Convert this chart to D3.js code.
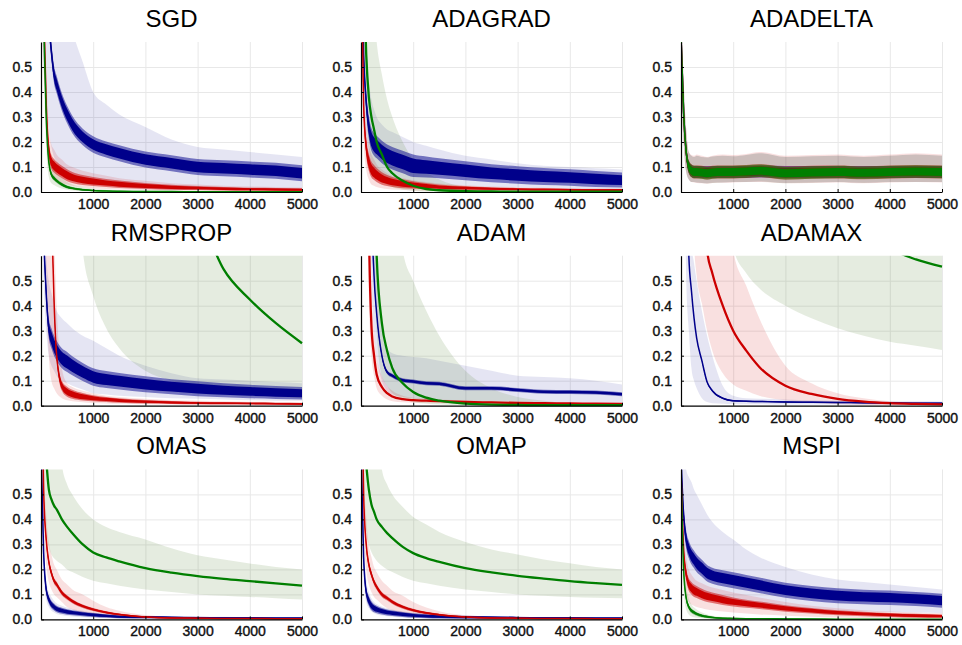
<!DOCTYPE html>
<html>
<head>
<meta charset="utf-8">
<script src="https://cdn.jsdelivr.net/npm/d3@7"></script>
<style>
  body { margin: 0; background: #fff; }
  text { font-family: "Liberation Sans", Arial, Helvetica, sans-serif; }
</style>
</head>
<body>
<svg id="chart" width="962" height="645"></svg>
<script>
const iters = [0, 50, 100, 150, 200, 250, 300, 400, 500, 600, 800, 1000, 1250, 1500, 2000, 2500, 3000, 3500, 4000, 4500, 5000];
const titles = ["SGD", "ADAGRAD", "ADADELTA", "RMSPROP", "ADAM", "ADAMAX", "OMAS", "OMAP", "MSPI"];
const xTicks = [1000, 2000, 3000, 4000, 5000];
const yTicks = [0.0, 0.1, 0.2, 0.3, 0.4, 0.5];

// SGD
const sgdBlueMean  = [1.2, 1.0, 0.85, 0.68, 0.56, 0.47, 0.43, 0.36, 0.31, 0.27, 0.22, 0.19, 0.17, 0.155, 0.13, 0.115, 0.1, 0.095, 0.09, 0.085, 0.075];
const sgdBlueNoise = [0, 0.02, 0.03, 0.035, 0.035, 0.035, 0.035, 0.035, 0.035, 0.035, 0.033, 0.033, 0.032, 0.032, 0.032, 0.032, 0.032, 0.032, 0.032, 0.032, 0.032];
const sgdBlueLo    = [0.8, 0.5, 0.35, 0.25, 0.18, 0.14, 0.12, 0.09, 0.07, 0.06, 0.04, 0.03, 0.025, 0.02, 0.015, 0.01, 0.01, 0.01, 0.01, 0.01, 0.01];
const sgdBlueHi    = [1.5, 1.4, 1.3, 1.2, 1.1, 1.0, 0.95, 0.85, 0.75, 0.65, 0.52, 0.4, 0.35, 0.31, 0.26, 0.21, 0.18, 0.17, 0.16, 0.15, 0.14];
const sgdRedMean   = [1.0, 0.75, 0.35, 0.17, 0.12, 0.105, 0.095, 0.08, 0.067, 0.058, 0.048, 0.042, 0.036, 0.031, 0.024, 0.019, 0.016, 0.013, 0.011, 0.01, 0.009];
const sgdRedNoise  = [0, 0.02, 0.03, 0.03, 0.028, 0.027, 0.026, 0.025, 0.024, 0.022, 0.02, 0.018, 0.016, 0.015, 0.012, 0.01, 0.008, 0.007, 0.006, 0.006, 0.006];
const sgdRedLo     = [0.8, 0.55, 0.22, 0.09, 0.06, 0.05, 0.045, 0.035, 0.03, 0.025, 0.02, 0.015, 0.012, 0.01, 0.008, 0.006, 0.005, 0.004, 0.003, 0.003, 0.003];
const sgdRedHi     = [1.2, 0.95, 0.5, 0.26, 0.19, 0.17, 0.15, 0.13, 0.11, 0.1, 0.085, 0.075, 0.065, 0.055, 0.045, 0.035, 0.03, 0.025, 0.022, 0.02, 0.018];
const sgdGreenMean = [1.0, 0.7, 0.3, 0.12, 0.07, 0.055, 0.045, 0.03, 0.02, 0.015, 0.009, 0.006, 0.004, 0.003, 0.002, 0.002, 0.001, 0.001, 0.001, 0.001, 0.001];
const sgdGreenNoise= [0, 0.01, 0.012, 0.012, 0.01, 0.009, 0.008, 0.007, 0.006, 0.005, 0.004, 0.003, 0.002, 0.002, 0.002, 0.001, 0.001, 0.001, 0.001, 0.001, 0.001];
const sgdGreenLo   = [0.8, 0.5, 0.18, 0.06, 0.035, 0.028, 0.022, 0.014, 0.009, 0.006, 0.003, 0.002, 0.001, 0, 0, 0, 0, 0, 0, 0, 0];
const sgdGreenHi   = [1.2, 0.9, 0.45, 0.2, 0.12, 0.09, 0.075, 0.055, 0.04, 0.03, 0.02, 0.014, 0.01, 0.008, 0.006, 0.005, 0.004, 0.004, 0.004, 0.004, 0.004];

// ADAGRAD
const adagradBlueMean  = [1.0, 0.55, 0.36, 0.26, 0.21, 0.19, 0.18, 0.16, 0.145, 0.135, 0.12, 0.105, 0.1, 0.095, 0.085, 0.075, 0.068, 0.062, 0.058, 0.052, 0.048];
const adagradBlueNoise = [0, 0.03, 0.04, 0.045, 0.045, 0.045, 0.045, 0.045, 0.045, 0.045, 0.045, 0.045, 0.042, 0.04, 0.038, 0.036, 0.035, 0.034, 0.033, 0.032, 0.03];
const adagradBlueLo    = [0.8, 0.35, 0.2, 0.13, 0.1, 0.09, 0.08, 0.07, 0.06, 0.055, 0.045, 0.04, 0.035, 0.03, 0.025, 0.02, 0.018, 0.015, 0.012, 0.01, 0.01];
const adagradBlueHi    = [1.2, 0.8, 0.6, 0.45, 0.37, 0.33, 0.3, 0.27, 0.25, 0.24, 0.22, 0.2, 0.185, 0.17, 0.145, 0.13, 0.115, 0.105, 0.1, 0.095, 0.09];
const adagradRedMean   = [1.0, 0.35, 0.18, 0.12, 0.09, 0.078, 0.068, 0.054, 0.046, 0.04, 0.033, 0.028, 0.024, 0.02, 0.016, 0.013, 0.011, 0.01, 0.009, 0.008, 0.008];
const adagradRedNoise  = [0, 0.03, 0.035, 0.035, 0.032, 0.03, 0.028, 0.025, 0.022, 0.02, 0.018, 0.015, 0.012, 0.01, 0.008, 0.006, 0.005, 0.005, 0.004, 0.004, 0.004];
const adagradRedLo     = [0.8, 0.2, 0.09, 0.05, 0.03, 0.025, 0.02, 0.015, 0.012, 0.01, 0.008, 0.006, 0.005, 0.004, 0.003, 0.003, 0.003, 0.003, 0.003, 0.003, 0.003];
const adagradRedHi     = [1.2, 0.5, 0.27, 0.19, 0.15, 0.13, 0.11, 0.09, 0.075, 0.065, 0.055, 0.047, 0.04, 0.034, 0.027, 0.022, 0.019, 0.017, 0.015, 0.014, 0.013];
const adagradGreenMean = [1.2, 0.9, 0.55, 0.38, 0.3, 0.25, 0.2, 0.15, 0.1, 0.075, 0.045, 0.025, 0.012, 0.007, 0.003, 0.002, 0.001, 0.001, 0.001, 0.001, 0.001];
const adagradGreenLo   = [0.9, 0.5, 0.3, 0.18, 0.12, 0.09, 0.07, 0.045, 0.03, 0.02, 0.01, 0.005, 0.002, 0.001, 0, 0, 0, 0, 0, 0, 0];
const adagradGreenHi   = [1.5, 1.4, 1.2, 1.0, 0.85, 0.72, 0.6, 0.47, 0.37, 0.3, 0.2, 0.13, 0.08, 0.05, 0.02, 0.01, 0.006, 0.005, 0.005, 0.005, 0.005];

// ADADELTA
const adadeltaBlueMean  = [0.62, 0.32, 0.16, 0.1, 0.085, 0.08, 0.08, 0.08, 0.08, 0.08, 0.08, 0.08, 0.08, 0.082, 0.08, 0.08, 0.08, 0.08, 0.08, 0.08, 0.08];
const adadeltaBlueNoise = [0, 0.02, 0.023, 0.024, 0.024, 0.024, 0.024, 0.024, 0.024, 0.024, 0.024, 0.024, 0.024, 0.024, 0.024, 0.024, 0.024, 0.024, 0.024, 0.024, 0.024];
const adadeltaBlueLo    = [0.45, 0.2, 0.08, 0.05, 0.04, 0.04, 0.038, 0.036, 0.035, 0.037, 0.038, 0.04, 0.04, 0.042, 0.036, 0.038, 0.04, 0.037, 0.04, 0.04, 0.04];
const adadeltaBlueHi    = [0.8, 0.45, 0.25, 0.16, 0.145, 0.14, 0.145, 0.14, 0.138, 0.142, 0.145, 0.143, 0.148, 0.155, 0.14, 0.143, 0.145, 0.14, 0.145, 0.15, 0.145];
const adadeltaRedMean   = [0.62, 0.32, 0.16, 0.1, 0.085, 0.08, 0.08, 0.079, 0.076, 0.079, 0.08, 0.08, 0.082, 0.085, 0.076, 0.079, 0.08, 0.077, 0.08, 0.082, 0.08];
const adadeltaRedNoise  = [0, 0.02, 0.024, 0.026, 0.026, 0.026, 0.026, 0.026, 0.026, 0.026, 0.026, 0.026, 0.026, 0.026, 0.026, 0.026, 0.026, 0.026, 0.026, 0.026, 0.026];
const adadeltaRedLo     = [0.45, 0.2, 0.08, 0.05, 0.04, 0.038, 0.036, 0.035, 0.033, 0.036, 0.037, 0.038, 0.04, 0.04, 0.035, 0.036, 0.038, 0.035, 0.038, 0.04, 0.038];
const adadeltaRedHi     = [0.8, 0.45, 0.25, 0.16, 0.148, 0.145, 0.15, 0.145, 0.14, 0.145, 0.15, 0.148, 0.152, 0.16, 0.145, 0.148, 0.15, 0.145, 0.15, 0.155, 0.15];
const adadeltaGreenMean = [0.62, 0.32, 0.16, 0.1, 0.085, 0.08, 0.08, 0.078, 0.075, 0.078, 0.08, 0.08, 0.082, 0.085, 0.075, 0.078, 0.08, 0.077, 0.08, 0.082, 0.08];
const adadeltaGreenNoise= [0, 0.02, 0.024, 0.025, 0.025, 0.025, 0.025, 0.025, 0.025, 0.025, 0.025, 0.025, 0.025, 0.025, 0.025, 0.025, 0.025, 0.025, 0.025, 0.025, 0.025];
const adadeltaGreenLo   = [0.45, 0.2, 0.08, 0.05, 0.04, 0.04, 0.038, 0.036, 0.034, 0.036, 0.038, 0.04, 0.04, 0.042, 0.035, 0.037, 0.04, 0.036, 0.04, 0.04, 0.04];
const adadeltaGreenHi   = [0.8, 0.45, 0.25, 0.16, 0.145, 0.14, 0.145, 0.14, 0.138, 0.142, 0.145, 0.143, 0.148, 0.155, 0.14, 0.143, 0.145, 0.14, 0.145, 0.15, 0.145];

// RMSPROP
const rmspropBlueMean  = [1.2, 0.7, 0.45, 0.31, 0.27, 0.24, 0.22, 0.19, 0.175, 0.16, 0.135, 0.115, 0.105, 0.098, 0.086, 0.076, 0.068, 0.062, 0.057, 0.053, 0.05];
const rmspropBlueNoise = [0, 0.03, 0.04, 0.04, 0.04, 0.04, 0.04, 0.04, 0.04, 0.038, 0.036, 0.035, 0.034, 0.033, 0.032, 0.03, 0.03, 0.028, 0.027, 0.026, 0.025];
const rmspropBlueLo    = [0.9, 0.5, 0.3, 0.2, 0.16, 0.14, 0.12, 0.1, 0.09, 0.08, 0.065, 0.05, 0.045, 0.04, 0.035, 0.03, 0.028, 0.025, 0.022, 0.02, 0.02];
const rmspropBlueHi    = [1.3, 0.9, 0.6, 0.5, 0.45, 0.41, 0.38, 0.35, 0.33, 0.31, 0.28, 0.26, 0.23, 0.2, 0.16, 0.13, 0.11, 0.105, 0.1, 0.095, 0.09];
const rmspropRedMean   = [3, 2.5, 2, 1.2, 0.8, 0.42, 0.2, 0.08, 0.056, 0.046, 0.036, 0.03, 0.025, 0.021, 0.016, 0.013, 0.011, 0.01, 0.009, 0.008, 0.007];
const rmspropRedNoise  = [0, 0, 0, 0.01, 0.015, 0.02, 0.02, 0.02, 0.02, 0.018, 0.015, 0.012, 0.01, 0.009, 0.007, 0.006, 0.005, 0.005, 0.004, 0.004, 0.004];
const rmspropRedLo     = [2, 1.5, 0.5, 0.2, 0.1, 0.07, 0.05, 0.03, 0.022, 0.018, 0.014, 0.011, 0.009, 0.008, 0.006, 0.005, 0.004, 0.003, 0.003, 0.003, 0.002];
const rmspropRedHi     = [3.5, 3, 2.5, 1.5, 1.0, 0.7, 0.4, 0.15, 0.09, 0.075, 0.06, 0.05, 0.04, 0.035, 0.028, 0.022, 0.02, 0.018, 0.016, 0.015, 0.014];
const rmspropGreenMean = [5, 4.8, 4.6, 4.4, 4.2, 4.0, 3.8, 3.5, 3.2, 3.0, 2.6, 2.2, 1.8, 1.5, 1.15, 0.95, 0.78, 0.545, 0.425, 0.33, 0.25];
const rmspropGreenLo   = [3, 3, 3, 3, 3, 3, 3, 2.6, 2.1, 1.6, 0.62, 0.44, 0.31, 0.23, 0.14, 0.1, 0.07, 0.055, 0.045, 0.038, 0.03];
const rmspropGreenHi   = [6, 6, 6, 6, 6, 6, 6, 6, 6, 6, 6, 6, 6, 6, 6, 6, 6, 6, 6, 6, 6];

// ADAM
const adamBlueMean  = [5, 4, 3, 2, 0.85, 0.52, 0.37, 0.2, 0.135, 0.12, 0.102, 0.097, 0.09, 0.088, 0.07, 0.07, 0.063, 0.056, 0.055, 0.053, 0.046];
const adamBlueNoise = [0, 0, 0, 0, 0, 0, 0.006, 0.008, 0.008, 0.008, 0.008, 0.008, 0.008, 0.008, 0.008, 0.008, 0.008, 0.008, 0.008, 0.008, 0.008];
const adamBlueLo    = [4, 3, 2, 1.2, 0.5, 0.3, 0.2, 0.1, 0.06, 0.045, 0.035, 0.03, 0.025, 0.022, 0.02, 0.018, 0.016, 0.015, 0.014, 0.013, 0.012];
const adamBlueHi    = [6, 5, 4, 3, 1.3, 0.8, 0.55, 0.32, 0.23, 0.21, 0.2, 0.195, 0.19, 0.18, 0.16, 0.14, 0.12, 0.115, 0.11, 0.1, 0.085];
const adamRedMean   = [5, 4, 3, 0.75, 0.32, 0.2, 0.125, 0.075, 0.05, 0.037, 0.026, 0.022, 0.02, 0.018, 0.015, 0.013, 0.011, 0.01, 0.009, 0.008, 0.007];
const adamRedLo     = [4, 3, 2, 0.45, 0.2, 0.12, 0.07, 0.04, 0.025, 0.018, 0.014, 0.012, 0.011, 0.01, 0.009, 0.008, 0.006, 0.005, 0.005, 0.004, 0.004];
const adamRedHi     = [6, 5, 4, 1.2, 0.45, 0.3, 0.2, 0.12, 0.08, 0.06, 0.04, 0.032, 0.028, 0.025, 0.021, 0.018, 0.016, 0.014, 0.013, 0.012, 0.011];
const adamGreenMean = [5, 4.5, 4, 3.5, 2.5, 1.0, 0.6, 0.33, 0.22, 0.15, 0.09, 0.055, 0.032, 0.02, 0.008, 0.004, 0.003, 0.002, 0.002, 0.002, 0.002];
const adamGreenLo   = [4, 3.5, 3, 2.5, 1.5, 0.6, 0.3, 0.12, 0.08, 0.05, 0.03, 0.015, 0.008, 0.005, 0.002, 0.001, 0, 0, 0, 0, 0];
const adamGreenHi   = [6, 6, 6, 6, 6, 5, 4, 3, 2, 1.2, 0.62, 0.5, 0.38, 0.28, 0.14, 0.07, 0.035, 0.02, 0.01, 0.008, 0.006];

// ADAMAX
const adamaxBlueMean  = [5, 3, 1.5, 0.6, 0.46, 0.35, 0.27, 0.18, 0.095, 0.06, 0.03, 0.02, 0.018, 0.017, 0.015, 0.014, 0.013, 0.012, 0.011, 0.01, 0.01];
const adamaxBlueNoise = [0, 0, 0, 0, 0, 0, 0, 0.003, 0.003, 0.003, 0.003, 0.003, 0.003, 0.003, 0.003, 0.003, 0.003, 0.003, 0.003, 0.003, 0.003];
const adamaxBlueLo    = [4, 2, 0.5, 0.3, 0.15, 0.1, 0.07, 0.03, 0.015, 0.01, 0.008, 0.007, 0.006, 0.006, 0.005, 0.005, 0.005, 0.004, 0.004, 0.004, 0.004];
const adamaxBlueHi    = [6, 4, 1.5, 0.9, 0.65, 0.57, 0.5, 0.38, 0.28, 0.2, 0.08, 0.04, 0.03, 0.028, 0.025, 0.022, 0.02, 0.02, 0.018, 0.018, 0.017];
const adamaxRedMean   = [8, 7, 6, 5, 4, 3, 2, 1.2, 0.62, 0.53, 0.4, 0.3, 0.22, 0.155, 0.08, 0.047, 0.027, 0.016, 0.01, 0.007, 0.005];
const adamaxRedLo     = [6, 5, 4, 3, 2, 0.65, 0.52, 0.41, 0.3, 0.22, 0.13, 0.085, 0.06, 0.04, 0.022, 0.012, 0.006, 0.004, 0.003, 0.002, 0.002];
const adamaxRedHi     = [9, 8, 7, 6, 5, 4, 3, 2.2, 1.6, 1.3, 1.0, 0.62, 0.48, 0.35, 0.16, 0.09, 0.05, 0.03, 0.018, 0.012, 0.01];
const adamaxGreenMean = [3, 2.8, 2.6, 2.5, 2.4, 2.3, 2.2, 2.0, 1.9, 1.8, 1.6, 1.5, 1.35, 1.25, 1.1, 0.95, 0.82, 0.71, 0.63, 0.585, 0.556];
const adamaxGreenLo   = [3, 3, 3, 3, 3, 3, 3, 2.6, 2.2, 1.6, 1.0, 0.63, 0.53, 0.47, 0.4, 0.35, 0.31, 0.28, 0.256, 0.24, 0.223];
const adamaxGreenHi   = [4, 4, 4, 4, 4, 4, 4, 4, 4, 4, 4, 4, 4, 4, 4, 4, 4, 4, 4, 4, 4];

// OMAS
const omasBlueMean  = [0.7, 0.27, 0.12, 0.08, 0.06, 0.05, 0.042, 0.035, 0.03, 0.027, 0.022, 0.018, 0.014, 0.011, 0.009, 0.008, 0.007, 0.006, 0.006, 0.005, 0.005];
const omasBlueNoise = [0, 0.02, 0.018, 0.016, 0.015, 0.014, 0.013, 0.012, 0.011, 0.01, 0.009, 0.008, 0.007, 0.006, 0.005, 0.004, 0.004, 0.004, 0.004, 0.004, 0.004];
const omasBlueLo    = [0.5, 0.18, 0.08, 0.05, 0.035, 0.028, 0.022, 0.017, 0.014, 0.012, 0.009, 0.007, 0.005, 0.004, 0.003, 0.003, 0.002, 0.002, 0.002, 0.002, 0.002];
const omasBlueHi    = [0.9, 0.35, 0.16, 0.11, 0.09, 0.075, 0.065, 0.055, 0.048, 0.042, 0.035, 0.028, 0.022, 0.018, 0.015, 0.013, 0.012, 0.011, 0.01, 0.01, 0.01];
const omasRedMean   = [1.2, 0.52, 0.32, 0.23, 0.185, 0.155, 0.14, 0.107, 0.088, 0.073, 0.053, 0.04, 0.028, 0.02, 0.01, 0.006, 0.005, 0.004, 0.004, 0.003, 0.003];
const omasRedNoise  = [0, 0.015, 0.015, 0.014, 0.013, 0.012, 0.011, 0.01, 0.009, 0.008, 0.007, 0.006, 0.005, 0.004, 0.003, 0.003, 0.002, 0.002, 0.002, 0.002, 0.002];
const omasRedLo     = [0.9, 0.38, 0.22, 0.15, 0.12, 0.1, 0.09, 0.07, 0.05, 0.04, 0.025, 0.015, 0.01, 0.007, 0.004, 0.003, 0.002, 0.002, 0.002, 0.001, 0.001];
const omasRedHi     = [1.4, 0.65, 0.42, 0.31, 0.26, 0.22, 0.2, 0.16, 0.14, 0.12, 0.1, 0.075, 0.05, 0.035, 0.018, 0.01, 0.008, 0.007, 0.006, 0.005, 0.005];
const omasGreenMean = [1.5, 0.8, 0.64, 0.52, 0.48, 0.455, 0.44, 0.4, 0.37, 0.345, 0.3, 0.268, 0.248, 0.232, 0.205, 0.187, 0.173, 0.162, 0.153, 0.144, 0.135];
const omasGreenLo   = [1, 0.5, 0.35, 0.29, 0.26, 0.245, 0.235, 0.22, 0.2, 0.19, 0.17, 0.155, 0.145, 0.135, 0.12, 0.11, 0.1, 0.095, 0.09, 0.085, 0.08];
const omasGreenHi   = [3, 3, 3, 3, 2.5, 1.5, 0.9, 0.62, 0.54, 0.5, 0.44, 0.4, 0.37, 0.35, 0.32, 0.285, 0.257, 0.24, 0.224, 0.21, 0.2];

// OMAP
const omapBlueMean  = [0.7, 0.25, 0.11, 0.075, 0.055, 0.045, 0.04, 0.033, 0.028, 0.025, 0.02, 0.016, 0.013, 0.011, 0.009, 0.008, 0.007, 0.006, 0.006, 0.005, 0.005];
const omapBlueNoise = [0, 0.02, 0.02, 0.02, 0.018, 0.016, 0.015, 0.013, 0.012, 0.011, 0.01, 0.009, 0.008, 0.007, 0.006, 0.005, 0.004, 0.004, 0.004, 0.004, 0.004];
const omapBlueLo    = [0.5, 0.17, 0.07, 0.045, 0.032, 0.025, 0.02, 0.016, 0.013, 0.011, 0.008, 0.006, 0.005, 0.004, 0.003, 0.003, 0.002, 0.002, 0.002, 0.002, 0.002];
const omapBlueHi    = [0.9, 0.35, 0.16, 0.11, 0.085, 0.07, 0.062, 0.052, 0.045, 0.04, 0.033, 0.027, 0.021, 0.017, 0.014, 0.012, 0.011, 0.01, 0.01, 0.009, 0.009];
const omapRedMean   = [1.2, 0.5, 0.3, 0.22, 0.18, 0.15, 0.13, 0.1, 0.085, 0.07, 0.05, 0.037, 0.026, 0.019, 0.01, 0.006, 0.005, 0.004, 0.004, 0.003, 0.003];
const omapRedNoise  = [0, 0.015, 0.015, 0.014, 0.013, 0.012, 0.011, 0.01, 0.009, 0.008, 0.007, 0.006, 0.005, 0.004, 0.003, 0.003, 0.002, 0.002, 0.002, 0.002, 0.002];
const omapRedLo     = [0.9, 0.36, 0.2, 0.14, 0.11, 0.09, 0.08, 0.06, 0.045, 0.036, 0.023, 0.014, 0.009, 0.006, 0.004, 0.003, 0.002, 0.002, 0.002, 0.001, 0.001];
const omapRedHi     = [1.4, 0.65, 0.41, 0.3, 0.25, 0.21, 0.19, 0.155, 0.135, 0.115, 0.095, 0.07, 0.048, 0.033, 0.017, 0.01, 0.008, 0.007, 0.006, 0.005, 0.005];
const omapGreenMean = [0.9, 0.75, 0.62, 0.52, 0.46, 0.43, 0.4, 0.37, 0.345, 0.325, 0.29, 0.265, 0.245, 0.23, 0.205, 0.188, 0.174, 0.163, 0.153, 0.145, 0.138];
const omapGreenLo   = [1, 0.5, 0.35, 0.3, 0.27, 0.25, 0.235, 0.215, 0.2, 0.19, 0.17, 0.155, 0.145, 0.135, 0.12, 0.11, 0.1, 0.095, 0.09, 0.087, 0.085];
const omapGreenHi   = [3, 3, 3, 3, 2.5, 1.5, 0.9, 0.6, 0.54, 0.5, 0.45, 0.41, 0.38, 0.35, 0.31, 0.28, 0.26, 0.24, 0.225, 0.21, 0.2];

// MSPI
const mspiBlueMean  = [0.65, 0.42, 0.32, 0.28, 0.255, 0.24, 0.225, 0.205, 0.185, 0.175, 0.165, 0.157, 0.147, 0.137, 0.117, 0.104, 0.095, 0.09, 0.087, 0.082, 0.075];
const mspiBlueNoise = [0, 0.035, 0.035, 0.035, 0.035, 0.035, 0.035, 0.034, 0.033, 0.032, 0.032, 0.032, 0.031, 0.031, 0.03, 0.03, 0.03, 0.029, 0.029, 0.028, 0.028];
const mspiBlueLo    = [0.5, 0.25, 0.17, 0.14, 0.12, 0.11, 0.1, 0.09, 0.08, 0.075, 0.07, 0.065, 0.06, 0.055, 0.045, 0.04, 0.035, 0.032, 0.03, 0.028, 0.025];
const mspiBlueHi    = [0.8, 0.7, 0.6, 0.57, 0.55, 0.52, 0.5, 0.46, 0.42, 0.39, 0.35, 0.32, 0.28, 0.25, 0.21, 0.18, 0.16, 0.15, 0.14, 0.13, 0.12];
const mspiRedMean   = [0.6, 0.28, 0.18, 0.14, 0.125, 0.115, 0.11, 0.1, 0.092, 0.087, 0.078, 0.07, 0.063, 0.057, 0.044, 0.035, 0.027, 0.022, 0.018, 0.015, 0.013];
const mspiRedNoise  = [0, 0.025, 0.025, 0.025, 0.025, 0.025, 0.024, 0.023, 0.022, 0.021, 0.02, 0.018, 0.016, 0.015, 0.013, 0.011, 0.01, 0.009, 0.008, 0.008, 0.007];
const mspiRedLo     = [0.45, 0.18, 0.1, 0.07, 0.06, 0.055, 0.05, 0.045, 0.04, 0.037, 0.032, 0.028, 0.024, 0.02, 0.015, 0.011, 0.008, 0.006, 0.005, 0.004, 0.003];
const mspiRedHi     = [0.7, 0.36, 0.25, 0.2, 0.18, 0.165, 0.155, 0.145, 0.135, 0.128, 0.118, 0.108, 0.098, 0.088, 0.07, 0.055, 0.045, 0.037, 0.032, 0.028, 0.025];
const mspiGreenMean = [0.6, 0.2, 0.085, 0.05, 0.035, 0.028, 0.022, 0.015, 0.011, 0.008, 0.005, 0.004, 0.003, 0.003, 0.002, 0.002, 0.001, 0.001, 0.001, 0.001, 0.001];
const mspiGreenNoise= [0, 0.012, 0.012, 0.01, 0.009, 0.008, 0.007, 0.006, 0.005, 0.004, 0.003, 0.003, 0.002, 0.002, 0.002, 0.001, 0.001, 0.001, 0.001, 0.001, 0.001];
const mspiGreenLo   = [0.5, 0.12, 0.04, 0.02, 0.012, 0.009, 0.007, 0.005, 0.003, 0.002, 0.001, 0, 0, 0, 0, 0, 0, 0, 0, 0, 0];
const mspiGreenHi   = [0.7, 0.3, 0.14, 0.085, 0.06, 0.048, 0.04, 0.028, 0.02, 0.015, 0.01, 0.008, 0.006, 0.005, 0.004, 0.003, 0.003, 0.003, 0.003, 0.003, 0.003];

const blue = "#00008b", red = "#cc0000", green = "#007f00";
const bandColors = { [blue]: "rgb(0,0,139)", [red]: "rgb(204,0,0)", [green]: "rgb(80,130,50)" };
const bandOpacity = { [blue]: 0.1, [red]: 0.12, [green]: 0.15 };

// [mean, noise, lo, hi] for blue, red, green in each panel
const panelSeries = [
  [[sgdBlueMean, sgdBlueNoise, sgdBlueLo, sgdBlueHi], [sgdRedMean, sgdRedNoise, sgdRedLo, sgdRedHi], [sgdGreenMean, sgdGreenNoise, sgdGreenLo, sgdGreenHi]],
  [[adagradBlueMean, adagradBlueNoise, adagradBlueLo, adagradBlueHi], [adagradRedMean, adagradRedNoise, adagradRedLo, adagradRedHi], [adagradGreenMean, null, adagradGreenLo, adagradGreenHi]],
  [[adadeltaBlueMean, adadeltaBlueNoise, adadeltaBlueLo, adadeltaBlueHi], [adadeltaRedMean, adadeltaRedNoise, adadeltaRedLo, adadeltaRedHi], [adadeltaGreenMean, adadeltaGreenNoise, adadeltaGreenLo, adadeltaGreenHi]],
  [[rmspropBlueMean, rmspropBlueNoise, rmspropBlueLo, rmspropBlueHi], [rmspropRedMean, rmspropRedNoise, rmspropRedLo, rmspropRedHi], [rmspropGreenMean, null, rmspropGreenLo, rmspropGreenHi]],
  [[adamBlueMean, adamBlueNoise, adamBlueLo, adamBlueHi], [adamRedMean, null, adamRedLo, adamRedHi], [adamGreenMean, null, adamGreenLo, adamGreenHi]],
  [[adamaxBlueMean, adamaxBlueNoise, adamaxBlueLo, adamaxBlueHi], [adamaxRedMean, null, adamaxRedLo, adamaxRedHi], [adamaxGreenMean, null, adamaxGreenLo, adamaxGreenHi]],
  [[omasBlueMean, omasBlueNoise, omasBlueLo, omasBlueHi], [omasRedMean, omasRedNoise, omasRedLo, omasRedHi], [omasGreenMean, null, omasGreenLo, omasGreenHi]],
  [[omapBlueMean, omapBlueNoise, omapBlueLo, omapBlueHi], [omapRedMean, omapRedNoise, omapRedLo, omapRedHi], [omapGreenMean, null, omapGreenLo, omapGreenHi]],
  [[mspiBlueMean, mspiBlueNoise, mspiBlueLo, mspiBlueHi], [mspiRedMean, mspiRedNoise, mspiRedLo, mspiRedHi], [mspiGreenMean, mspiGreenNoise, mspiGreenLo, mspiGreenHi]]
];
const seriesColors = [blue, red, green];

const panel_width = 261, panel_height = 150;
const col_step = 320, row_step = 213.7;
const left0 = 41, top0 = 42;

const svg = d3.select("#chart");

const x = d3.scaleLinear().domain([0, 5000]).range([0, panel_width]);
const y = d3.scaleLinear().domain([0, 0.6]).range([panel_height, 0]);

// clip so curves leaving the top are cut at the frame
svg.append("defs").append("clipPath").attr("id", "plot-clip")
  .append("rect").attr("x", 0).attr("y", 0).attr("width", panel_width + 1).attr("height", panel_height + 2);

/**
 * Area between mean - k*noise and mean + k*noise.
 */
function ribbon(noise, k) {
  return d3.area()
    .x(function(d, i) { return x(iters[i]); })
    .y0(function(d, i) { return y(d - k * noise[i]); })
    .y1(function(d, i) { return y(d + k * noise[i]); })
    .curve(d3.curveMonotoneX);
}

titles.forEach(function(title, p) {
  const col = p % 3, row = Math.floor(p / 3);
  const g = svg.append("g")
    .attr("transform", "translate(" + (left0 + col * col_step) + "," + (top0 + row * row_step) + ")");

  g.append("text")
    .attr("x", panel_width / 2).attr("y", -15)
    .attr("text-anchor", "middle")
    .style("font-size", "24px").style("fill", "#000")
    .text(title);

  // grid
  const gx = g.append("g").attr("transform", "translate(0," + panel_height + ")")
    .call(d3.axisBottom(x).tickValues(xTicks).tickSize(-panel_height).tickFormat(""));
  const gy = g.append("g")
    .call(d3.axisLeft(y).tickValues(yTicks.slice(1)).tickSize(-panel_width).tickFormat(""));
  [gx, gy].forEach(function(a) {
    a.select(".domain").remove();
    a.selectAll("line").attr("stroke", "#e8e8e8").attr("stroke-width", 1);
  });

  const plot = g.append("g").attr("clip-path", "url(#plot-clip)");
  const series = panelSeries[p];

  // shaded bands first
  series.forEach(function(s, k) {
    const c = seriesColors[k];
    const band = d3.area()
      .x(function(d, i) { return x(iters[i]); })
      .y0(function(d, i) { return y(s[2][i]); })
      .y1(function(d, i) { return y(s[3][i]); })
      .curve(d3.curveMonotoneX);
    plot.append("path").datum(s[0])
      .attr("d", band)
      .attr("fill", bandColors[c])
      .attr("fill-opacity", bandOpacity[c]);
  });

  // noisy ribbons (soft fringe + dense core) and mean lines
  series.forEach(function(s, k) {
    const c = seriesColors[k];
    if (s[1]) {
      plot.append("path").datum(s[0]).attr("d", ribbon(s[1], 1)).attr("fill", c).attr("fill-opacity", 0.5);
      plot.append("path").datum(s[0]).attr("d", ribbon(s[1], 0.65)).attr("fill", c);
    }
    const line = d3.line()
      .x(function(d, i) { return x(iters[i]); })
      .y(function(d) { return y(d); })
      .curve(d3.curveMonotoneX);
    plot.append("path").datum(s[0])
      .attr("d", line)
      .attr("fill", "none")
      .attr("stroke", c)
      .attr("stroke-width", s[1] ? 1.5 : 2.3);
  });

  // axes
  const ax = g.append("g").attr("transform", "translate(0," + panel_height + ")")
    .call(d3.axisBottom(x).tickValues(xTicks).tickSize(-3).tickSizeOuter(0).tickPadding(7).tickFormat(d3.format("d")));
  const ay = g.append("g")
    .call(d3.axisLeft(y).tickValues(yTicks).tickSize(-3).tickSizeOuter(0).tickPadding(9).tickFormat(d3.format(".1f")));
  [ax, ay].forEach(function(a) {
    a.select(".domain").attr("stroke", "#000").attr("stroke-width", 1.2);
    a.selectAll("line").attr("stroke", "#000");
    a.selectAll("text")
      .style("font-size", "14px")
      .style("font-family", "'Liberation Sans', Arial, sans-serif")
      .attr("fill", "#111")
      .attr("stroke", "#111").attr("stroke-width", 0.4);
  });
});
</script>
</body>
</html>
